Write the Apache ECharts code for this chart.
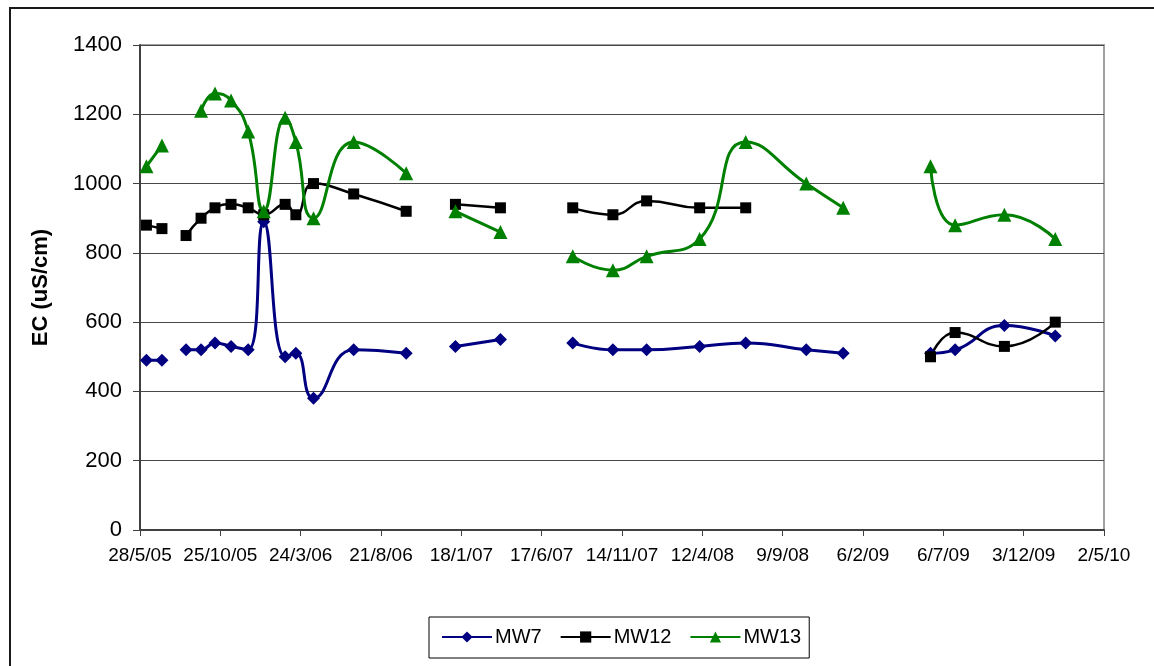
<!DOCTYPE html>
<html>
<head>
<meta charset="utf-8">
<title>EC (uS/cm)</title>
<script src="https://cdn.jsdelivr.net/npm/echarts@6/dist/echarts.min.js"></script>
<style>
  html, body { margin: 0; padding: 0; background: #fff; }
  #chart { width: 1154px; height: 666px; }
</style>
</head>
<body>
<div id="chart"></div>
<script>
// Sampling dates (D/M/YY ticks on the axis). Rows with all-null values are
// breaks in the record, so the lines are not joined across them.
const sampleDates = [
  '2005-06-09', '2005-07-08', '2005-08-01',
  '2005-08-22', '2005-09-19', '2005-10-15', '2005-11-14', '2005-12-16',
  '2006-01-14', '2006-02-23', '2006-03-15', '2006-04-17', '2006-07-01',
  '2006-10-07', '2006-11-20',
  '2007-01-07', '2007-04-01', '2007-06-01',
  '2007-08-14', '2007-10-28', '2007-12-30', '2008-04-07', '2008-07-02',
  '2008-10-23', '2008-12-31', '2009-03-15',
  '2009-06-12', '2009-07-28', '2009-10-28', '2010-01-31'
];

const mw7 = [
  490, 490, null,
  520, 520, 540, 530, 520,
  890, 500, 510, 380, 520,
  510, null,
  530, 550, null,
  540, 520, 520, 530, 540,
  520, 510, null,
  510, 520, 590, 560
];

const mw12 = [
  880, 870, null,
  850, 900, 930, 940, 930,
  910, 940, 910, 1000, 970,
  920, null,
  940, 930, null,
  930, 910, 950, 930, 930,
  null, null, null,
  500, 570, 530, 600
];

const mw13 = [
  1050, 1110, null,
  null, 1210, 1260, 1240, 1150,
  920, 1190, 1120, 900, 1120,
  1030, null,
  920, 860, null,
  790, 750, 790, 840, 1120,
  1000, 930, null,
  1050, 880, 910, 840
];

// Axis runs from 28/5/05 to 2/5/10 in steps of 150 days
const axisStart = '2005-05-28';
const axisDays = 1800;
const tickDays = 150;

const yTicks = { min: 0, max: 1400, step: 200 };

const DAY = 86400000;
const baseMs = Date.parse(axisStart + 'T00:00:00Z');
const dayOffset = s => Math.round((Date.parse(s + 'T00:00:00Z') - baseMs) / DAY);
const xs = sampleDates.map(dayOffset);
const pairs = vals => xs.map((x, i) => [x, vals[i]]);

const dayLabel = d => {
  const dt = new Date(baseMs + d * DAY);
  const yy = String(dt.getUTCFullYear() % 100).padStart(2, '0');
  return dt.getUTCDate() + '/' + (dt.getUTCMonth() + 1) + '/' + yy;
};

const FONT = 'Arial, "Liberation Sans", sans-serif';

const chart = echarts.init(document.getElementById('chart'), null, { renderer: 'canvas' });

const lineSeries = (name, vals, color, symbol, size, width) => ({
  name,
  type: 'line',
  data: pairs(vals),
  smooth: true,
  connectNulls: false,
  symbol,
  symbolSize: size,
  showAllSymbol: true,
  lineStyle: { color, width },
  itemStyle: { color, borderWidth: 0 },
  emphasis: { disabled: true },
  animation: false
});

chart.setOption({
  animation: false,
  backgroundColor: '#fff',
  graphic: [{
    type: 'rect',
    shape: { x: 10, y: 8, width: 1300, height: 800 },
    style: { fill: null, stroke: '#1a1a1a', lineWidth: 2 },
    silent: true,
    z: 100
  }],
  grid: {
    left: 140, right: 50, top: 45, bottom: 136,
    show: true,
    borderColor: '#a0a0a0',
    borderWidth: 2,
    backgroundColor: '#fff'
  },
  legend: {
    left: 429, top: 617,
    data: ['MW7', 'MW12', 'MW13'],
    itemWidth: 50, itemHeight: 14, itemGap: 18,
    padding: [10, 8, 11, 12],
    borderColor: '#000', borderWidth: 1,
    textStyle: { fontFamily: FONT, fontSize: 20, color: '#000', padding: [0, 0, 0, -2] },
    selectedMode: false
  },
  xAxis: {
    type: 'value',
    min: 0, max: axisDays, interval: tickDays,
    axisLine: { show: true, onZero: false, lineStyle: { color: '#404040', width: 2 } },
    axisTick: { show: true, inside: false, length: 6, lineStyle: { color: '#404040', width: 1 } },
    splitLine: { show: false },
    axisLabel: {
      formatter: v => dayLabel(v),
      fontFamily: FONT, fontSize: 19, color: '#000', margin: 16,
      showMinLabel: true, showMaxLabel: true
    }
  },
  yAxis: {
    type: 'value',
    min: yTicks.min, max: yTicks.max, interval: yTicks.step,
    name: 'EC (uS/cm)',
    nameLocation: 'middle',
    nameGap: 88,
    nameTextStyle: { fontFamily: FONT, fontSize: 22, fontWeight: 'bold', color: '#000' },
    axisLine: { show: true, lineStyle: { color: '#404040', width: 2 } },
    axisTick: { show: true, inside: false, length: 7, lineStyle: { color: '#404040', width: 1 } },
    splitLine: { show: true, lineStyle: { color: '#484848', width: 1 } },
    axisLabel: {
      formatter: v => String(v),
      fontFamily: FONT, fontSize: 22, color: '#000', margin: 18
    }
  },
  series: [
    lineSeries('MW7', mw7, '#000080', 'diamond', 13, 3),
    lineSeries('MW12', mw12, '#000000', 'rect', 11, 2.5),
    lineSeries('MW13', mw13, '#008000', 'triangle', 14, 3)
  ]
});
</script>
</body>
</html>
